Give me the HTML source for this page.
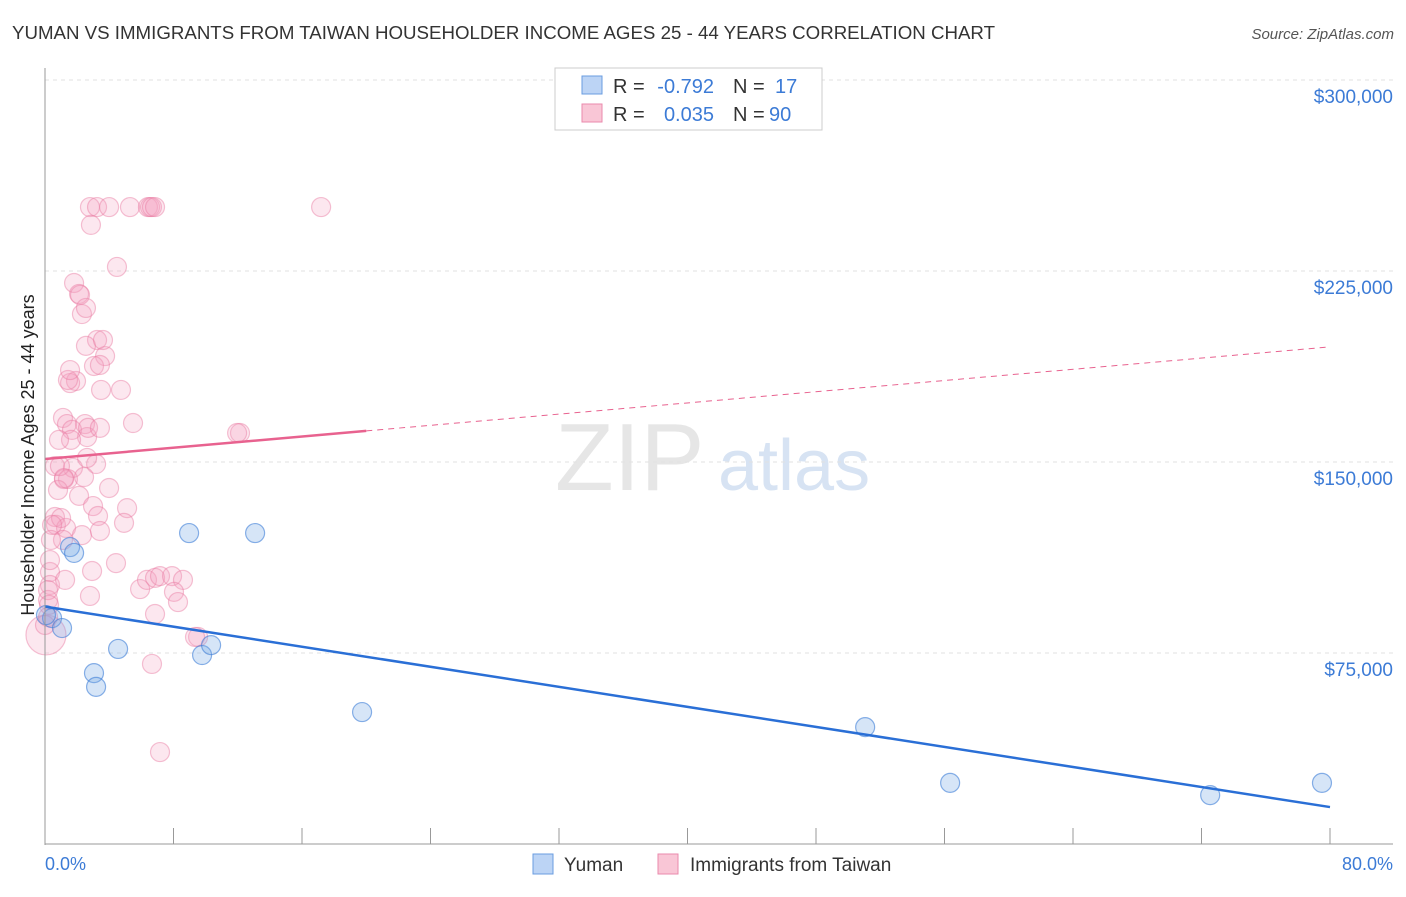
<!DOCTYPE html>
<html><head><meta charset="utf-8"><style>
body{margin:0;background:#fff;font-family:"Liberation Sans",sans-serif}
svg text{font-family:"Liberation Sans",sans-serif}
</style></head><body>
<svg id="c" width="1406" height="892">
<text x="12" y="39" font-size="18.7" fill="#333">YUMAN VS IMMIGRANTS FROM TAIWAN HOUSEHOLDER INCOME AGES 25 - 44 YEARS CORRELATION CHART</text>
<text x="1394" y="39" font-size="15" fill="#555" text-anchor="end" font-style="italic">Source: ZipAtlas.com</text>
<text x="0" y="0" font-size="18" fill="#222" text-anchor="middle" transform="translate(34,455) rotate(-90)">Householder Income Ages 25 - 44 years</text>
<text x="555" y="490" font-size="96" fill="#e6e6e6" font-family="Liberation Serif">ZIP</text>
<text x="718" y="490" font-size="72" fill="#d7e3f3">atlas</text>
<g id="grid"></g><g id="pts"></g><g id="lines"></g>
<line x1="45" y1="68" x2="45" y2="845" stroke="#999"/>
<line x1="45" y1="844" x2="1393" y2="844" stroke="#999"/>
<text x="45" y="870" font-size="18" fill="#3c7bd6">0.0%</text>
<text x="1393" y="870" font-size="18" fill="#3c7bd6" text-anchor="end">80.0%</text>
<g>
<rect x="555" y="68" width="267" height="62" fill="#fff" stroke="#ccc"/>
<rect x="582" y="76" width="20" height="18" fill="#bcd4f5" stroke="#6a9ce0"/>
<rect x="582" y="104" width="20" height="18" fill="#f9c6d6" stroke="#ea8aac"/>
<text x="613" y="93" font-size="20" fill="#333">R =</text>
<text x="714" y="93" font-size="20" fill="#3c7bd6" text-anchor="end">-0.792</text>
<text x="733" y="93" font-size="20" fill="#333">N =</text>
<text x="775" y="93" font-size="20" fill="#3c7bd6">17</text>
<text x="613" y="121" font-size="20" fill="#333">R =</text>
<text x="714" y="121" font-size="20" fill="#3c7bd6" text-anchor="end">0.035</text>
<text x="733" y="121" font-size="20" fill="#333">N =</text>
<text x="769" y="121" font-size="20" fill="#3c7bd6">90</text>
</g>
<g>
<rect x="533" y="854" width="20" height="20" fill="#bcd4f5" stroke="#6a9ce0"/>
<text x="564" y="871" font-size="19" fill="#333">Yuman</text>
<rect x="658" y="854" width="20" height="20" fill="#f9c6d6" stroke="#ea8aac"/>
<text x="690" y="871" font-size="19" fill="#333">Immigrants from Taiwan</text>
</g>
</svg>
<script>
const yTicks=[75000,150000,225000,300000];
const yTickLabels=["$75,000","$150,000","$225,000","$300,000"];
const blueX=[0.44,1.06,1.56,1.81,3.05,3.18,4.55,8.97,9.78,10.34,13.08,19.74,51.06,56.35,72.54,79.5,0.06];
const blueY=[88.7,84.8,116.6,114.3,67.1,61.7,76.6,122.1,74.2,78.1,122.1,51.8,45.9,24.0,19.2,24.0,89.9];
const pinkX=[2.8,3.24,3.99,5.29,6.41,6.54,6.66,6.85,17.19,2.86,4.48,1.81,2.12,2.3,3.24,2.55,3.74,3.05,1.93,1.56,1.43,3.49,4.73,5.48,1.12,1.37,2.49,1.68,2.62,1.62,0.87,12.14,11.96,3.18,0.62,1.74,1.43,1.18,2.43,0.81,2.12,3.99,2.99,5.11,3.3,4.92,0.62,0.68,1.31,1.12,0.37,2.3,3.42,4.42,2.93,0.31,0.31,0.19,2.8,5.92,6.35,6.85,7.16,7.91,8.59,8.03,8.28,6.85,9.53,9.34,6.66,7.16,0.06,0.19,0,1.0,0.44,0.93,1.18,1.56,3.42,3.61,2.55,2.18,1.25,0.31,0.19,0.25,2.68,2.62,3.42];
const pinkY=[250.1,250.1,250.1,250.1,250.1,250.1,250.1,250.1,250.1,243.1,226.6,220.3,216,208.1,197.9,195.6,191.6,187.7,181.8,181,182.2,178.3,178.3,165.3,167.3,164.9,164.9,162.6,159.8,158.7,158.7,161.4,161.4,149.2,148.4,147.7,143.3,143.3,144.1,139,136.7,139.8,132.7,131.9,128.8,126.1,128.4,125.3,124.1,119.4,119.4,121.3,122.9,110.3,107.2,106.8,101.7,95.8,97.4,100.1,103.7,104.5,105.2,105.2,103.7,99,95,90.3,81.3,81.3,70.7,36.1,82.1,89.1,86,128,125.3,148.4,143.7,186.1,188.1,197.9,210.5,215.6,103.7,111.5,99.7,93.9,163.4,151.6,163.4];
const blueLine=[93.2,14.5];
const pinkLine=[151.2,195.2];
const pinkSolidEnd=20;
const NS="http://www.w3.org/2000/svg";
const xs=v=>45+v/80*1285;
const ys=v=>844-v/75000*191;
const yk=v=>ys(v*1000);
function mk(t,a,p){const e=document.createElementNS(NS,t);for(const k in a)e.setAttribute(k,a[k]);p.appendChild(e);return e;}
const grid=document.getElementById('grid');
yTicks.forEach((t,i)=>{
 const l=mk('line',{x1:45,x2:1393,y1:ys(t),y2:ys(t),stroke:'#e2e2e2','stroke-dasharray':'4,4'},grid);
 
 
 const tx=mk('text',{x:1393,y:ys(t)+23,'font-size':19,fill:'#3c7bd6','text-anchor':'end'},grid);
 tx.textContent=yTickLabels[i];
 
 
});
for(let i=1;i<=10;i++){
 const t=mk('line',{x1:xs(i*8),x2:xs(i*8),y1:828,y2:844,stroke:'#999'},grid);
 
 
}
const pts=document.getElementById('pts');
pinkX.forEach((x,i)=>{
 const big=(x<0.1&&pinkY[i]<83);
 const c=mk('circle',{cx:xs(x),cy:yk(pinkY[i]),r:big?20:9.5,fill:'rgba(245,160,190,0.25)',stroke:'rgba(232,120,160,0.45)','stroke-width':1.2},pts);
 
 
});
blueX.forEach((x,i)=>{
 const c=mk('circle',{cx:xs(x),cy:yk(blueY[i]),r:9.5,fill:'rgba(120,170,230,0.3)',stroke:'rgba(60,125,215,0.6)','stroke-width':1.2},pts);
 
 
});
const lines=document.getElementById('lines');
const pAt=x=>pinkLine[0]+(pinkLine[1]-pinkLine[0])*x/80;
const bl=mk('line',{x1:xs(0),y1:yk(blueLine[0]),x2:xs(80),y2:yk(blueLine[1]),stroke:'#2a6fd6','stroke-width':2.5},lines);


const ps=mk('line',{x1:xs(0),y1:yk(pAt(0)),x2:xs(pinkSolidEnd),y2:yk(pAt(pinkSolidEnd)),stroke:'#e8628f','stroke-width':2.5},lines);


const pd=mk('line',{x1:xs(pinkSolidEnd),y1:yk(pAt(pinkSolidEnd)),x2:xs(80),y2:yk(pAt(80)),stroke:'#e8628f','stroke-width':1,'stroke-dasharray':'6,5'},lines);


</script>
</body></html>
